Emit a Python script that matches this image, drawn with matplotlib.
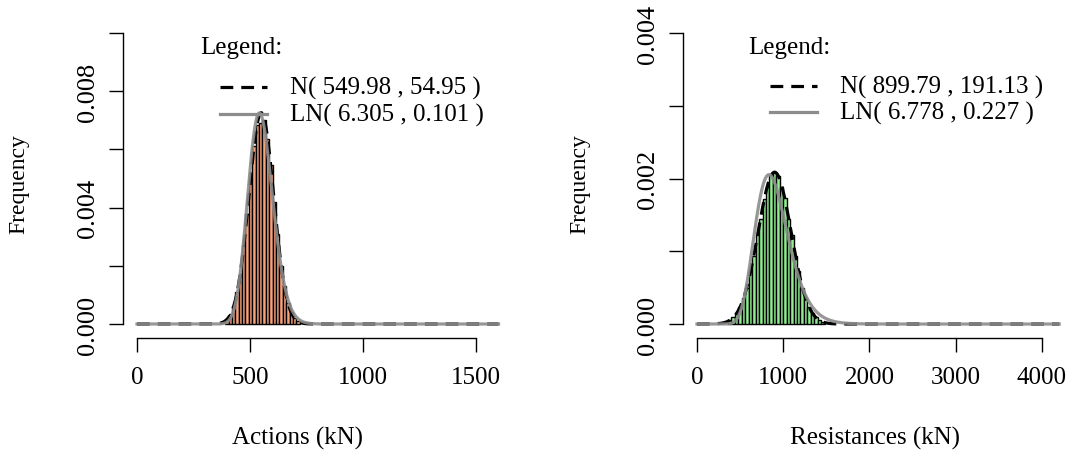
import numpy as np
import matplotlib
matplotlib.use('Agg')
from matplotlib import pyplot as plt
from matplotlib.lines import Line2D

plt.rcParams['font.family'] = ['Liberation Serif', 'DejaVu Serif']
plt.rcParams['font.size'] = 18

# --- data ---
act_edges = np.arange(390, 721, 15)
act_dens = [0.00016, 0.00033, 0.00060, 0.00110, 0.00172, 0.00272, 0.00378, 0.00498,
			0.00612, 0.00684, 0.00690, 0.00702, 0.00636, 0.00545, 0.00418, 0.00308,
			0.00200, 0.00131, 0.00072, 0.00040, 0.00021, 0.00009]
act_norm = (549.98, 54.95)
act_lnorm = (6.305, 0.101)

res_edges = np.arange(360, 1481, 40)
res_dens = [0.00005, 0.00009, 0.00015, 0.00024, 0.00036, 0.00050, 0.00073, 0.00094,
			0.00123, 0.00145, 0.00172, 0.00189, 0.00205, 0.00209, 0.00203, 0.00188,
			0.00173, 0.00145, 0.00122, 0.00093, 0.00073, 0.00050, 0.00036, 0.00023,
			0.00015, 0.00009, 0.00005, 0.00003]
res_norm = (899.79, 191.13)
res_lnorm = (6.778, 0.227)

panels = [
	dict(edges=act_edges, dens=act_dens, norm=act_norm, lnorm=act_lnorm, color='#F7A27A',
		 xmax=1600, xticks=[0, 500, 1000, 1500], yticks=np.arange(0, 0.0101, 0.002),
		 ylabels=['0.000', '', '0.004', '', '0.008', ''], xlabel='Actions (kN)',
		 xlim=(-62, 1664), ylim=(-0.000481, 0.010412), rect=[123, 22, 513, 339],
		 leg_x=(200, 220, 267, 290), leg_y=(48, 88, 115), xlab_x=297, ylab_x=19),
	dict(edges=res_edges, dens=res_dens, norm=res_norm, lnorm=res_lnorm, color='#90EE90',
		 xmax=4200, xticks=[0, 1000, 2000, 3000, 4000], yticks=np.arange(0, 0.00401, 0.001),
		 ylabels=['0.000', '', '0.002', '', '0.004'], xlabel='Resistances (kN)',
		 xlim=(-162, 4371), ylim=(-0.000192, 0.004165), rect=[683, 22, 1074, 339],
		 leg_x=(748, 770, 817, 840), leg_y=(48, 87, 113), xlab_x=875, ylab_x=580),
]

W, H = 1074, 464
fig = plt.figure(figsize=(W / 100, H / 100), dpi=100)

def npdf(x, m, s):
	return np.exp(-0.5 * ((x - m) / s) ** 2) / (s * np.sqrt(2 * np.pi))

def lnpdf(x, m, s):
	x = np.maximum(x, 1e-9)
	return np.exp(-0.5 * ((np.log(x) - m) / s) ** 2) / (x * s * np.sqrt(2 * np.pi))

for p in panels:
	l, t, r, b = p['rect']
	ax = fig.add_axes([l / W, (H - b) / H, (r - l) / W, (b - t) / H])

	widths = np.diff(p['edges'])
	ax.bar(p['edges'][:-1], p['dens'], width=widths, align='edge',
		   color=p['color'], edgecolor='black', linewidth=1.0)

	x = np.linspace(0, p['xmax'], 800)
	ax.plot(x, npdf(x, *p['norm']), color='black', lw=2.3, dashes=(4, 2.5))
	ax.plot(x, lnpdf(x, *p['lnorm']), color='#8C8C8C', lw=2.3, alpha=0.9)

	ax.set_xlim(*p['xlim'])
	ax.set_ylim(*p['ylim'])
	for s in ['top', 'right']: ax.spines[s].set_visible(False)
	ax.spines['left'].set_bounds(p['yticks'][0], p['yticks'][-1])
	ax.spines['bottom'].set_bounds(p['xticks'][0], p['xticks'][-1])
	ax.spines['left'].set_linewidth(1.0)
	ax.spines['bottom'].set_linewidth(1.0)

	ax.set_xticks(p['xticks'])
	ax.set_xticklabels([str(v) for v in p['xticks']])
	ax.set_yticks(p['yticks'])
	ax.set_yticklabels(p['ylabels'], rotation=90, va='center', fontsize=19)
	ax.tick_params(axis='both', direction='out', length=10, width=1.0)
	ax.tick_params(axis='x', pad=10.5)
	ax.tick_params(axis='y', pad=7.5)

	# axis titles
	fig.text(p['ylab_x'] / W, 1 - 184 / H, 'Frequency', rotation=90, ha='center', va='center', fontsize=17)
	fig.text(p['xlab_x'] / W, 1 - 438 / H, p['xlabel'], ha='center', va='center')

	# legend (R style, no box)
	tx, lx0, lx1, ex = p['leg_x']
	ty, y1, y2 = p['leg_y']
	fig.text(tx / W, 1 - ty / H, 'Legend:', ha='left', va='center')
	fig.add_artist(Line2D([lx0 / W, lx1 / W], [1 - y1 / H] * 2, color='black', lw=2.3, dashes=(4, 2.5)))
	fig.add_artist(Line2D([lx0 / W, lx1 / W], [1 - y2 / H] * 2, color='#8C8C8C', lw=2.3))
	fig.text(ex / W, 1 - y1 / H, 'N( %.2f , %.2f )' % p['norm'], ha='left', va='center')
	fig.text(ex / W, 1 - y2 / H, 'LN( %.3f , %.3f )' % p['lnorm'], ha='left', va='center')

fig.savefig('out.png', dpi=100)
